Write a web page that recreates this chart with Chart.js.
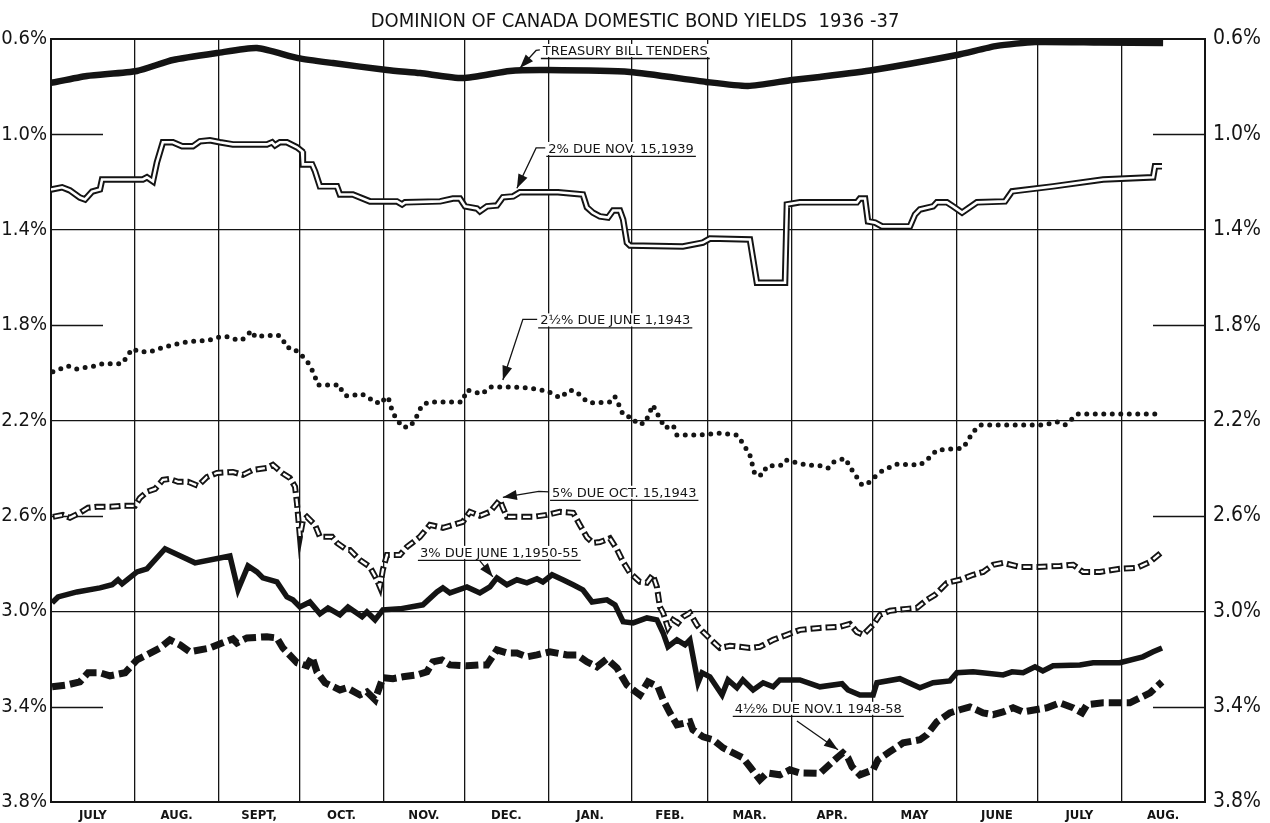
<!DOCTYPE html>
<html>
<head>
<meta charset="utf-8">
<script src="https://cdn.jsdelivr.net/npm/chart.js@4.4.1/dist/chart.umd.min.js"></script>
<style>
  html, body { margin: 0; padding: 0; background: #fff; }
  #wrap { width: 1270px; height: 823px; }
</style>
</head>
<body>
<div id="wrap"><canvas id="c" width="1270" height="823"></canvas></div>
<script>
// ---- Axis definitions (days counted from 1 July 1936) ----
const monthStarts = [0, 31, 62, 92, 123, 153, 184, 215, 243, 274, 304, 335, 365, 396, 427];
const monthLabels = ['JULY', 'AUG.', 'SEPT,', 'OCT.', 'NOV.', 'DEC.', 'JAN.', 'FEB.', 'MAR.', 'APR.', 'MAY', 'JUNE', 'JULY', 'AUG.'];
const yTicks = [0.6, 1.0, 1.4, 1.8, 2.2, 2.6, 3.0, 3.4, 3.8];
const yFullGrid = [0.6, 1.4, 2.2, 3.0, 3.8];
const yShortTicks = [1.0, 1.8, 2.6, 3.4];

// ---- Treasury bill tenders ----
const tbDays  = [0, 13.3, 31.8, 45.1, 61.4, 76.2, 91.4, 104.3, 124.3, 136.5, 152.4, 169.8, 183.5, 214.2, 242.4, 257.9, 274.2, 284.5, 304.2, 335.2, 350, 364.1, 388.1, 411.5];
const tbYield = [0.784, 0.755, 0.734, 0.688, 0.659, 0.638, 0.68, 0.701, 0.73, 0.743, 0.764, 0.734, 0.73, 0.738, 0.78, 0.797, 0.772, 0.759, 0.73, 0.667, 0.629, 0.613, 0.615, 0.617];

// ---- 2% due Nov. 15, 1939 ----
const n39Days  = [0, 4.1, 7, 10.7, 12.6, 15.2, 18.1, 18.9, 34, 35.5, 37.7, 39.2, 41.4, 45.1, 48.5, 52.5, 55.1, 58.8, 62.5, 67.3, 79.9, 81.8, 82.9, 84.7, 87.3, 91, 92.9, 93.2, 96.6, 97.7, 99.5, 105.8, 106.9, 111.7, 118, 128, 129.9, 131, 144, 148.7, 151.3, 153.2, 157.6, 158.7, 161.3, 165, 167.2, 171, 173.5, 187.6, 196.8, 198.3, 200.5, 203.1, 206.1, 208, 210.5, 211.7, 213.1, 214.2, 233.8, 241.2, 243.8, 258.6, 261.2, 271.6, 272.3, 277.1, 298.2, 299.3, 301.2, 302.3, 304.9, 307.5, 317.8, 319.7, 321.5, 326.4, 327.8, 331.5, 333.8, 337.1, 342.6, 353, 355.6, 370.8, 389.3, 407.8, 408.5, 411.1];
const n39Yield = [1.231, 1.222, 1.235, 1.265, 1.273, 1.24, 1.231, 1.189, 1.189, 1.18, 1.197, 1.117, 1.033, 1.033, 1.05, 1.05, 1.029, 1.025, 1.033, 1.042, 1.042, 1.033, 1.046, 1.033, 1.033, 1.054, 1.071, 1.126, 1.126, 1.155, 1.218, 1.218, 1.252, 1.252, 1.281, 1.281, 1.294, 1.285, 1.281, 1.269, 1.269, 1.302, 1.311, 1.323, 1.302, 1.298, 1.264, 1.26, 1.243, 1.243, 1.252, 1.306, 1.328, 1.344, 1.349, 1.319, 1.319, 1.357, 1.454, 1.466, 1.47, 1.454, 1.437, 1.441, 1.622, 1.622, 1.294, 1.285, 1.285, 1.269, 1.269, 1.365, 1.37, 1.386, 1.386, 1.336, 1.315, 1.302, 1.285, 1.285, 1.302, 1.328, 1.285, 1.281, 1.239, 1.218, 1.189, 1.18, 1.134, 1.134];

// ---- 2 1/2% due June 1, 1943 ----
const j43Days  = [0.7, 6.3, 9.6, 16.3, 19.2, 26.3, 28.1, 30, 32.9, 36.6, 42.2, 48.5, 54, 57.7, 62.5, 65.5, 68.8, 70.7, 72.5, 74.4, 75.5, 78.4, 84, 85.8, 87.3, 89.5, 92.9, 95.8, 97.7, 98.8, 104.3, 106.9, 107.7, 109.5, 115.1, 116.9, 120.6, 121, 124.7, 126.5, 129.9, 132.8, 135, 137.3, 140.2, 152.1, 153.9, 159.5, 162.4, 170.9, 176.1, 183.5, 188.3, 192, 194.6, 196.5, 199.4, 207.6, 208.7, 210.5, 211.7, 215.4, 216.8, 219.8, 222.7, 224.6, 227.2, 230.2, 231.6, 240.1, 247.5, 253.8, 256, 258.6, 260.5, 263.1, 264.9, 270.9, 272.3, 275.3, 279.7, 284.5, 287.5, 289.4, 293.8, 296.4, 300.1, 302.3, 306.7, 309.7, 313, 321.5, 324.1, 327.8, 337.5, 341.2, 343.7, 367, 372.2, 375.2, 380, 410.3];
const j43Yield = [1.996, 1.971, 1.984, 1.971, 1.962, 1.962, 1.933, 1.899, 1.912, 1.912, 1.891, 1.874, 1.866, 1.866, 1.849, 1.849, 1.862, 1.862, 1.841, 1.824, 1.849, 1.845, 1.841, 1.862, 1.895, 1.895, 1.929, 1.967, 2.017, 2.051, 2.051, 2.051, 2.08, 2.097, 2.089, 2.105, 2.118, 2.131, 2.101, 2.169, 2.227, 2.227, 2.19, 2.135, 2.122, 2.122, 2.072, 2.089, 2.059, 2.059, 2.063, 2.076, 2.105, 2.072, 2.08, 2.105, 2.126, 2.122, 2.101, 2.143, 2.177, 2.19, 2.215, 2.211, 2.135, 2.177, 2.232, 2.219, 2.261, 2.261, 2.253, 2.261, 2.295, 2.345, 2.429, 2.429, 2.391, 2.387, 2.366, 2.375, 2.387, 2.39, 2.4, 2.375, 2.358, 2.408, 2.471, 2.463, 2.417, 2.4, 2.383, 2.387, 2.366, 2.324, 2.316, 2.248, 2.219, 2.219, 2.206, 2.219, 2.173, 2.173];

// ---- 5% due Oct. 15, 1943 ----
const o43Days  = [0.7, 4.4, 7, 10.7, 13.7, 17, 21.8, 26.6, 31.1, 32.9, 35.5, 38.5, 41.4, 44, 47, 50.7, 54.4, 57.7, 61.4, 67.3, 71, 74.7, 79.9, 82.1, 85.5, 88.4, 90.3, 91, 92.1, 93.2, 94.7, 97.7, 99.5, 104, 105.8, 109.5, 110.6, 114.3, 118, 120.6, 121.7, 122.8, 124.3, 129.1, 131.7, 136.5, 140.2, 145, 148.7, 152.4, 155, 158.7, 162.4, 166.1, 167.2, 168.7, 178.3, 183.5, 188.3, 193.2, 195.7, 198.3, 200.5, 203.1, 206.8, 209.4, 211.7, 214.2, 217.9, 220.5, 222.7, 224.2, 225.3, 226.5, 228.3, 230.2, 232, 233.8, 236.4, 239, 241.3, 245, 247.5, 251.2, 254.9, 258.6, 262.3, 267.2, 272.3, 277.1, 284.5, 291.9, 295.6, 298.2, 300.5, 304.2, 306.7, 310.4, 316.7, 320.4, 324.1, 327.1, 331.5, 336.3, 341.2, 344.9, 348.6, 352.3, 358.5, 364.8, 373.3, 378.2, 381.9, 388.1, 395.5, 401.8, 406.7, 411.1];
const o43Yield = [2.604, 2.596, 2.608, 2.587, 2.566, 2.562, 2.562, 2.558, 2.558, 2.525, 2.499, 2.487, 2.449, 2.445, 2.457, 2.457, 2.474, 2.437, 2.42, 2.416, 2.428, 2.407, 2.399, 2.386, 2.42, 2.441, 2.478, 2.546, 2.688, 2.62, 2.604, 2.638, 2.688, 2.688, 2.713, 2.743, 2.743, 2.785, 2.814, 2.868, 2.898, 2.826, 2.764, 2.764, 2.73, 2.688, 2.638, 2.65, 2.638, 2.625, 2.583, 2.6, 2.583, 2.533, 2.566, 2.604, 2.604, 2.596, 2.583, 2.587, 2.638, 2.69, 2.713, 2.71, 2.694, 2.74, 2.793, 2.839, 2.877, 2.881, 2.847, 2.898, 2.982, 3.007, 3.07, 3.036, 3.049, 3.024, 3.007, 3.058, 3.087, 3.128, 3.154, 3.145, 3.149, 3.154, 3.149, 3.12, 3.099, 3.078, 3.07, 3.065, 3.053, 3.087, 3.099, 3.057, 3.015, 2.998, 2.99, 2.986, 2.952, 2.931, 2.881, 2.868, 2.847, 2.835, 2.805, 2.797, 2.814, 2.814, 2.81, 2.805, 2.835, 2.835, 2.822, 2.818, 2.793, 2.751];

// ---- 3% due June 1, 1950-55 ----
const j50Days  = [0.4, 2.6, 9.6, 18.1, 22.6, 24.8, 26.3, 31.8, 35.5, 42.2, 53.3, 66.2, 69.2, 72.9, 76.2, 78.4, 83.6, 87.3, 89.5, 92.1, 95.8, 99.5, 102.5, 106.9, 109.9, 115.1, 116.9, 119.9, 122.8, 129.1, 137.6, 142.8, 145, 147.6, 153.9, 158.7, 162.4, 165, 168.7, 172.4, 176.1, 179.8, 182, 185.4, 189.4, 193.2, 196.8, 200.2, 205.7, 208.7, 211.7, 215.4, 220.5, 224.2, 226.5, 228.3, 231.6, 234.6, 236.4, 239.4, 240.9, 243.8, 248.3, 250.5, 253.8, 256, 259.8, 263.5, 267.2, 269.7, 277.1, 284.5, 292.7, 294.9, 299.3, 304.2, 305.6, 314.1, 321.5, 326.4, 332.6, 335.2, 341.2, 352.3, 355.6, 359.7, 364.1, 367, 370.8, 380.7, 385.6, 395.5, 404, 407.8, 411.1];
const j50Yield = [2.965, 2.94, 2.919, 2.902, 2.889, 2.868, 2.885, 2.835, 2.822, 2.738, 2.797, 2.768, 2.91, 2.81, 2.835, 2.86, 2.877, 2.94, 2.952, 2.982, 2.961, 3.011, 2.986, 3.015, 2.982, 3.023, 3.003, 3.036, 2.994, 2.99, 2.973, 2.919, 2.902, 2.923, 2.898, 2.923, 2.898, 2.86, 2.889, 2.868, 2.881, 2.864, 2.877, 2.847, 2.868, 2.889, 2.91, 2.961, 2.952, 2.973, 3.044, 3.049, 3.028, 3.036, 3.091, 3.149, 3.12, 3.141, 3.12, 3.3, 3.258, 3.275, 3.351, 3.288, 3.321, 3.288, 3.33, 3.3, 3.317, 3.288, 3.288, 3.317, 3.304, 3.33, 3.351, 3.351, 3.3, 3.283, 3.321, 3.3, 3.292, 3.258, 3.254, 3.267, 3.254, 3.258, 3.233, 3.25, 3.229, 3.225, 3.216, 3.216, 3.191, 3.17, 3.154];

// ---- 4 1/2% due Nov. 1, 1948-58 ----
const n48Days  = [0.4, 5.9, 10.7, 13.7, 18.1, 21.8, 27.4, 31.8, 35.5, 40.3, 44, 47.7, 51.4, 58.8, 63.3, 67.3, 68.8, 72.5, 79.9, 83.6, 85.8, 91, 94.7, 96.6, 98.4, 101.4, 106.9, 109.5, 114.3, 116.9, 119.9, 122.8, 126.5, 130.2, 135.4, 139.1, 141.3, 144.7, 147.6, 153.9, 158.7, 161.3, 165, 168.7, 172.4, 176.1, 179.8, 184.6, 190.9, 194.6, 198.3, 202, 205.7, 209.4, 213.1, 215.4, 217.9, 220.9, 224.6, 226.5, 229, 231.6, 236.4, 237.5, 241.3, 245, 248.7, 252.4, 256, 258.6, 262.3, 264.9, 269.7, 273.4, 277.1, 284.5, 290.8, 293, 294.9, 296.4, 299.3, 304.2, 306, 310.4, 315.3, 321.5, 324.1, 327.8, 332.6, 336.3, 340, 344.9, 348.6, 352.3, 356, 359.7, 368.5, 373.3, 378.2, 381.5, 383.3, 389.3, 399.2, 403.7, 406.7, 411.1];
const n48Yield = [3.317, 3.309, 3.296, 3.258, 3.258, 3.271, 3.258, 3.204, 3.183, 3.154, 3.12, 3.141, 3.17, 3.154, 3.133, 3.116, 3.133, 3.112, 3.107, 3.112, 3.154, 3.216, 3.229, 3.191, 3.254, 3.3, 3.33, 3.321, 3.351, 3.338, 3.371, 3.279, 3.283, 3.275, 3.267, 3.254, 3.212, 3.204, 3.225, 3.229, 3.225, 3.225, 3.162, 3.175, 3.175, 3.191, 3.183, 3.17, 3.183, 3.183, 3.212, 3.233, 3.2, 3.238, 3.309, 3.33, 3.351, 3.296, 3.317, 3.371, 3.426, 3.476, 3.464, 3.497, 3.527, 3.539, 3.573, 3.594, 3.615, 3.652, 3.707, 3.678, 3.686, 3.665, 3.678, 3.68, 3.615, 3.594, 3.615, 3.652, 3.686, 3.665, 3.623, 3.589, 3.552, 3.539, 3.518, 3.464, 3.426, 3.413, 3.401, 3.426, 3.434, 3.422, 3.405, 3.422, 3.405, 3.384, 3.405, 3.426, 3.392, 3.384, 3.384, 3.359, 3.342, 3.296];

// ---- Series labels ----
const seriesNames = ['TREASURY BILL TENDERS', '2% DUE NOV. 15,1939', '2\u00BD% DUE JUNE 1,1943', '5% DUE OCT. 15,1943', '3% DUE JUNE 1,1950-55', '4\u00BD% DUE NOV.1 1948-58'];

const INK = '#141414';
const FONT = "'Liberation Sans Narrow', 'DejaVu Sans Condensed', 'Liberation Sans', sans-serif";
const NOTE_FONT = "13px 'DejaVu Sans', sans-serif";

function pts(days, vals) { return days.map((d, i) => ({ x: d, y: vals[i] })); }

const monthMids = monthLabels.map((_, i) => (monthStarts[i] + monthStarts[i + 1]) / 2);

// Annotation anchors in data space (day, yield)
const notes = [
  { text: seriesNames[0], at: [182, 0.667], knee: [179.5, 0.648], tip: [173.5, 0.722], fromText: true },
  { text: seriesNames[1], at: [184, 1.078], knee: [179.5, 1.057], tip: [172.4, 1.226], fromText: true },
  { text: seriesNames[2], at: [181, 1.797], knee: [174.6, 1.776], tip: [167.2, 2.03], fromText: true },
  { text: seriesNames[3], at: [185.4, 2.52], knee: [180.5, 2.497], tip: [167.2, 2.522], fromText: true },
  { text: seriesNames[4], at: [136.5, 2.772], knee: [158.7, 2.789], tip: [163.5, 2.856], fromText: false },
  { text: seriesNames[5], at: [253, 3.426], knee: [276, 3.46], tip: [291.2, 3.581], fromText: false }
];

const decor = {
  id: 'decor',
  beforeDatasetsDraw(chart) {
    const { ctx, chartArea: a } = chart;
    const y = chart.scales.y;
    ctx.save();
    ctx.strokeStyle = INK;
    ctx.lineWidth = 1.3;
    yShortTicks.forEach(v => {
      const py = Math.round(y.getPixelForValue(v)) + 0.5;
      ctx.beginPath();
      ctx.moveTo(a.left, py); ctx.lineTo(a.left + 52, py);
      ctx.moveTo(a.right - 52, py); ctx.lineTo(a.right, py);
      ctx.stroke();
    });
    ctx.restore();
  },
  afterDatasetsDraw(chart) {
    const { ctx } = chart;
    const xs = chart.scales.x, ys = chart.scales.y;
    const P = p => [xs.getPixelForValue(p[0]), ys.getPixelForValue(p[1])];
    ctx.save();
    ctx.font = NOTE_FONT;
    ctx.fillStyle = INK; ctx.strokeStyle = INK; ctx.lineWidth = 1.3;
    ctx.textBaseline = 'alphabetic';
    notes.forEach(n => {
      const [tx, ty] = P(n.at);
      const w = ctx.measureText(n.text).width;
      ctx.fillStyle = '#fff';
      ctx.fillRect(tx - 2, ty - 11, w + 4, 13);
      ctx.fillStyle = INK;
      ctx.fillText(n.text, tx, ty);
      ctx.beginPath();
      ctx.moveTo(tx - 2, ty + 3.5); ctx.lineTo(tx + w + 2, ty + 3.5);
      ctx.stroke();
      const [kx, ky] = P(n.knee);
      const [px, py] = P(n.tip);
      ctx.beginPath();
      if (n.fromText) { ctx.moveTo(tx - 3, ty - 5); ctx.lineTo(kx, ky); }
      else { ctx.moveTo(kx, ky); }
      ctx.lineTo(px, py);
      ctx.stroke();
      const ang = Math.atan2(py - ky, px - kx);
      const L = 14, H = 5;
      ctx.beginPath();
      ctx.moveTo(px, py);
      ctx.lineTo(px - L * Math.cos(ang) + H * Math.sin(ang), py - L * Math.sin(ang) - H * Math.cos(ang));
      ctx.lineTo(px - L * Math.cos(ang) - H * Math.sin(ang), py - L * Math.sin(ang) + H * Math.cos(ang));
      ctx.closePath();
      ctx.fill();
    });
    ctx.restore();
  }
};

const base = { pointRadius: 0, fill: false, borderColor: INK, tension: 0 };

new Chart(document.getElementById('c'), {
  type: 'line',
  data: {
    datasets: [
      Object.assign({}, base, { label: seriesNames[0], data: pts(tbDays, tbYield), borderWidth: 6.5, tension: 0.2, order: 3 }),
      Object.assign({}, base, { label: seriesNames[1], data: pts(n39Days, n39Yield), borderWidth: 6.5, order: 2 }),
      Object.assign({}, base, { label: seriesNames[1] + ' inner', data: pts(n39Days, n39Yield), borderWidth: 2.6, borderColor: '#ffffff', order: 1 }),
      Object.assign({}, base, { label: seriesNames[2], data: pts(j43Days, j43Yield), borderWidth: 5, borderDash: [0, 8.5], borderCapStyle: 'round', order: 3 }),
      Object.assign({}, base, { label: seriesNames[4], data: pts(j50Days, j50Yield), borderWidth: 5.5, order: 3 }),
      Object.assign({}, base, { label: seriesNames[5], data: pts(n48Days, n48Yield), borderWidth: 7, borderDash: [13, 5], order: 3 }),
      Object.assign({}, base, { label: seriesNames[3], data: pts(o43Days, o43Yield), borderWidth: 6, borderDash: [11, 4], order: 2 }),
      Object.assign({}, base, { label: seriesNames[3] + ' inner', data: pts(o43Days, o43Yield), borderWidth: 2.3, borderDash: [7.5, 7.5], borderDashOffset: -1.75, borderColor: '#ffffff', order: 1 })
    ]
  },
  options: {
    responsive: false,
    animation: false,
    events: [],
    layout: { padding: 0 },
    plugins: {
      legend: { display: false },
      tooltip: { enabled: false },
      title: {
        display: true,
        text: 'DOMINION OF CANADA DOMESTIC BOND YIELDS  1936 -37',
        color: INK,
        font: { family: FONT, size: 20, weight: 'normal', lineHeight: 1.2 },
        padding: { top: 10, bottom: 5 }
      }
    },
    scales: {
      x: {
        type: 'linear',
        min: monthStarts[0],
        max: monthStarts[monthStarts.length - 1],
        afterBuildTicks(s) {
          s.ticks = monthStarts.concat(monthMids).sort((a, b) => a - b).map(v => ({ value: v }));
        },
        afterFit(s) { s.height = 21; },
        grid: {
          color: c => (c.tick && monthStarts.includes(c.tick.value)) ? INK : 'rgba(0,0,0,0)',
          lineWidth: 1.3,
          drawTicks: false
        },
        border: { display: true, color: INK, width: 2 },
        ticks: {
          autoSkip: false, maxRotation: 0, padding: 6, color: INK,
          font: { family: FONT, size: 13, weight: 'bold' },
          callback: v => { const i = monthMids.indexOf(v); return i >= 0 ? monthLabels[i] : ''; }
        }
      },
      y: {
        type: 'linear',
        reverse: true,
        min: yTicks[0],
        max: yTicks[yTicks.length - 1],
        afterBuildTicks(s) { s.ticks = yTicks.map(v => ({ value: v })); },
        afterFit(s) { s.width = 51; },
        grid: {
          color: c => (c.tick && yFullGrid.includes(c.tick.value)) ? INK : 'rgba(0,0,0,0)',
          lineWidth: c => (c.tick && (c.tick.value === 0.6)) ? 2 : 1.3,
          drawTicks: false
        },
        border: { display: true, color: INK, width: 2 },
        ticks: {
          padding: 4, color: INK,
          font: { family: FONT, size: 20 },
          callback: v => v.toFixed(1) + '%'
        }
      },
      y2: {
        type: 'linear',
        position: 'right',
        reverse: true,
        min: yTicks[0],
        max: yTicks[yTicks.length - 1],
        afterBuildTicks(s) { s.ticks = yTicks.map(v => ({ value: v })); },
        afterFit(s) { s.width = 65; },
        grid: { display: false, drawTicks: false },
        border: { display: true, color: INK, width: 2 },
        ticks: {
          padding: 8, color: INK,
          font: { family: FONT, size: 21 },
          callback: v => v.toFixed(1) + '%'
        }
      }
    }
  },
  plugins: [decor]
});
</script>
</body>
</html>
